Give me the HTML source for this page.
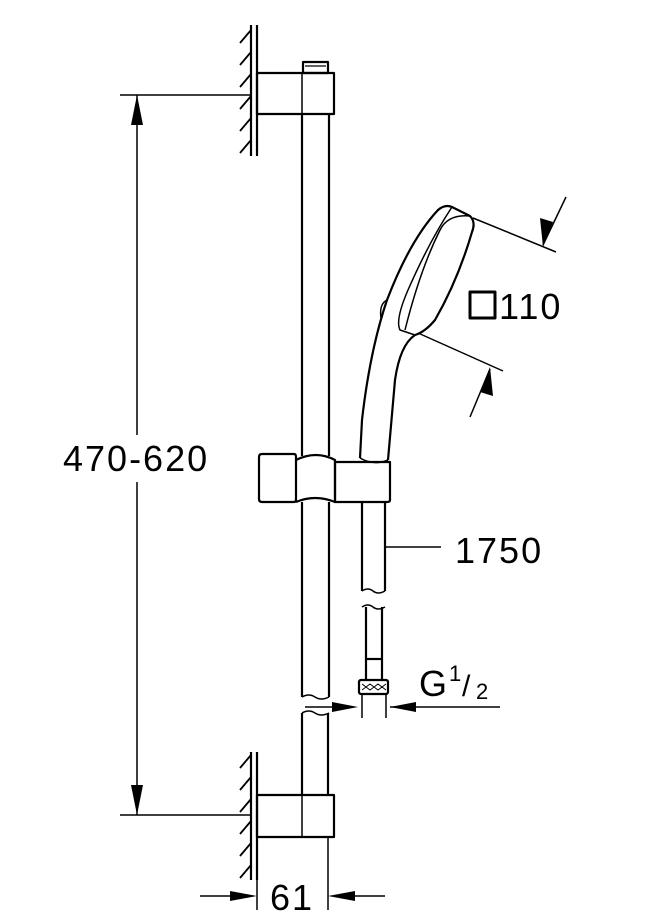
<!DOCTYPE html>
<html><head><meta charset="utf-8"><style>
html,body{margin:0;padding:0;background:#fff;}
svg{display:block;}
text{font-family:"Liberation Sans",sans-serif;fill:#000;}
</style></head><body>
<svg width="659" height="921" viewBox="0 0 659 921" xmlns="http://www.w3.org/2000/svg">
<g fill="none" stroke="#000" stroke-width="2.2" stroke-linejoin="round">
<line x1="251" y1="25" x2="251" y2="156"/><line x1="257" y1="25" x2="257" y2="156"/>
<path d="M251 30 l-11 13 M251 52 l-11 13 M251 74 l-11 13 M251 96 l-11 13 M251 118 l-11 13 M251 140 l-11 13" stroke-width="1.8"/>
<rect x="257" y="73" width="77" height="41"/>
<line x1="302" y1="73" x2="302" y2="114" stroke-width="1.5"/>
<rect x="303" y="62" width="25" height="11"/>
<line x1="305" y1="66" x2="326" y2="66" stroke-width="1.2"/>
<line x1="302" y1="114" x2="302" y2="456"/><line x1="329" y1="114" x2="329" y2="456"/>
<line x1="302" y1="502" x2="302" y2="697"/><line x1="329" y1="502" x2="329" y2="697"/>
<path d="M302 697 q7 -4 13 0 t14 0" stroke-width="1.5"/>
<path d="M302 713 q7 -4 13 0 t14 0" stroke-width="1.5"/>
<line x1="302" y1="713" x2="302" y2="795"/><line x1="328" y1="713" x2="328" y2="795"/>
<path d="M262 454 h32 q2 0 2 3 v43 q0 2 -2 2 h-32 q-3 0 -3 -3 v-42 q0 -3 3 -3 z"/>
<path d="M296 460 q20 -10 39 0 v42 q-20 -8 -39 0"/>
<path d="M335 462 h55 v38 q0 2 -3 2 h-52 z"/>
<line x1="362" y1="502" x2="362" y2="591"/><line x1="385" y1="502" x2="385" y2="591"/>
<path d="M362 591 q6 -4 11 0 t12 0" stroke-width="1.5"/>
<path d="M362 607 q6 -4 11 0 t12 0" stroke-width="1.5"/>
<line x1="366" y1="607" x2="366" y2="680"/><line x1="382" y1="607" x2="382" y2="680"/>
<line x1="366" y1="659" x2="382" y2="659"/>
<rect x="359" y="680" width="29" height="14" rx="2" fill="#fff"/>
<path d="M362 684 l4 3 4 -3 4 3 4 -3 4 3 4 -3 M362 690 l4 -3 4 3 4 -3 4 3 4 -3 4 3" stroke-width="1"/>
<line x1="362" y1="694" x2="362" y2="718" stroke-width="1.5"/><line x1="386" y1="694" x2="386" y2="718" stroke-width="1.5"/>
<path d="M360 458 L362 420 Q370 350 387 300 Q410 240 438 210 Q445 204 452 207 L470 216 Q476 222 472 232 Q458 280 435 320 Q425 332 415 335 Q400 345 395 380 L388 460"/>
<path d="M470 216 Q448 214 440 230 Q420 270 405 330" stroke-width="1.5"/>
<path d="M452 207 Q430 240 408 290 Q395 320 400 330 L415 335" stroke-width="1.5"/>
<path d="M387 300 q-8 4 -6 18" stroke-width="1.5"/>
<path d="M360 458 q14 8 28 2" stroke-width="1.5"/>
<line x1="473" y1="218" x2="556" y2="252" stroke-width="1.5"/>
<line x1="418" y1="333" x2="503" y2="371" stroke-width="1.5"/>
<line x1="566" y1="197" x2="543" y2="245" stroke-width="1.5"/>
<line x1="470" y1="417" x2="490" y2="369" stroke-width="1.5"/>
<rect x="470" y="292" width="25" height="26" stroke-width="3"/>
<line x1="385" y1="547" x2="441" y2="547" stroke-width="1.5"/>
<line x1="305" y1="707" x2="340" y2="707" stroke-width="1.5"/>
<line x1="390" y1="707" x2="500" y2="707" stroke-width="1.5"/>
<line x1="251" y1="752" x2="251" y2="880"/><line x1="257" y1="752" x2="257" y2="880"/>
<path d="M251 755 l-11 13 M251 777 l-11 13 M251 799 l-11 13 M251 821 l-11 13 M251 843 l-11 13 M251 865 l-11 13" stroke-width="1.8"/>
<rect x="257" y="795" width="77" height="42"/>
<line x1="302" y1="795" x2="302" y2="837" stroke-width="1.5"/>
<line x1="328" y1="837" x2="328" y2="910" stroke-width="1.5"/>
<line x1="257" y1="880" x2="257" y2="910" stroke-width="1.5"/>
<line x1="200" y1="896" x2="230" y2="896" stroke-width="1.5"/>
<line x1="355" y1="896" x2="385" y2="896" stroke-width="1.5"/>
<line x1="120" y1="95" x2="250" y2="95" stroke-width="1.5"/>
<line x1="120" y1="815" x2="250" y2="815" stroke-width="1.5"/>
<line x1="137" y1="95" x2="137" y2="435" stroke-width="1.5"/>
<line x1="137" y1="482" x2="137" y2="815" stroke-width="1.5"/>
</g>
<g fill="#000">
<polygon points="137,95 131,125 143,125"/>
<polygon points="137,815 131,785 143,785"/>
<polygon points="543,247 540,218 553,222"/>
<polygon points="490,367 493,396 480,392"/>
<polygon points="358,707 332,702 332,712"/>
<polygon points="390,707 416,702 416,712"/>
<polygon points="257,896 230,891 230,901"/>
<polygon points="328,896 355,891 355,901"/>
</g>
<g font-size="36" letter-spacing="2">
<text x="63" y="471">470-620</text>
<text x="499" y="319">110</text>
<text x="455" y="563">1750</text>
<text x="292" y="910" text-anchor="middle">61</text>
<text x="419" y="696" letter-spacing="0">G</text>
</g>
<text x="449" y="681" font-size="22">1</text>
<text x="462" y="696" font-size="30">/</text>
<text x="476" y="699" font-size="22">2</text>
</svg>
</body></html>
